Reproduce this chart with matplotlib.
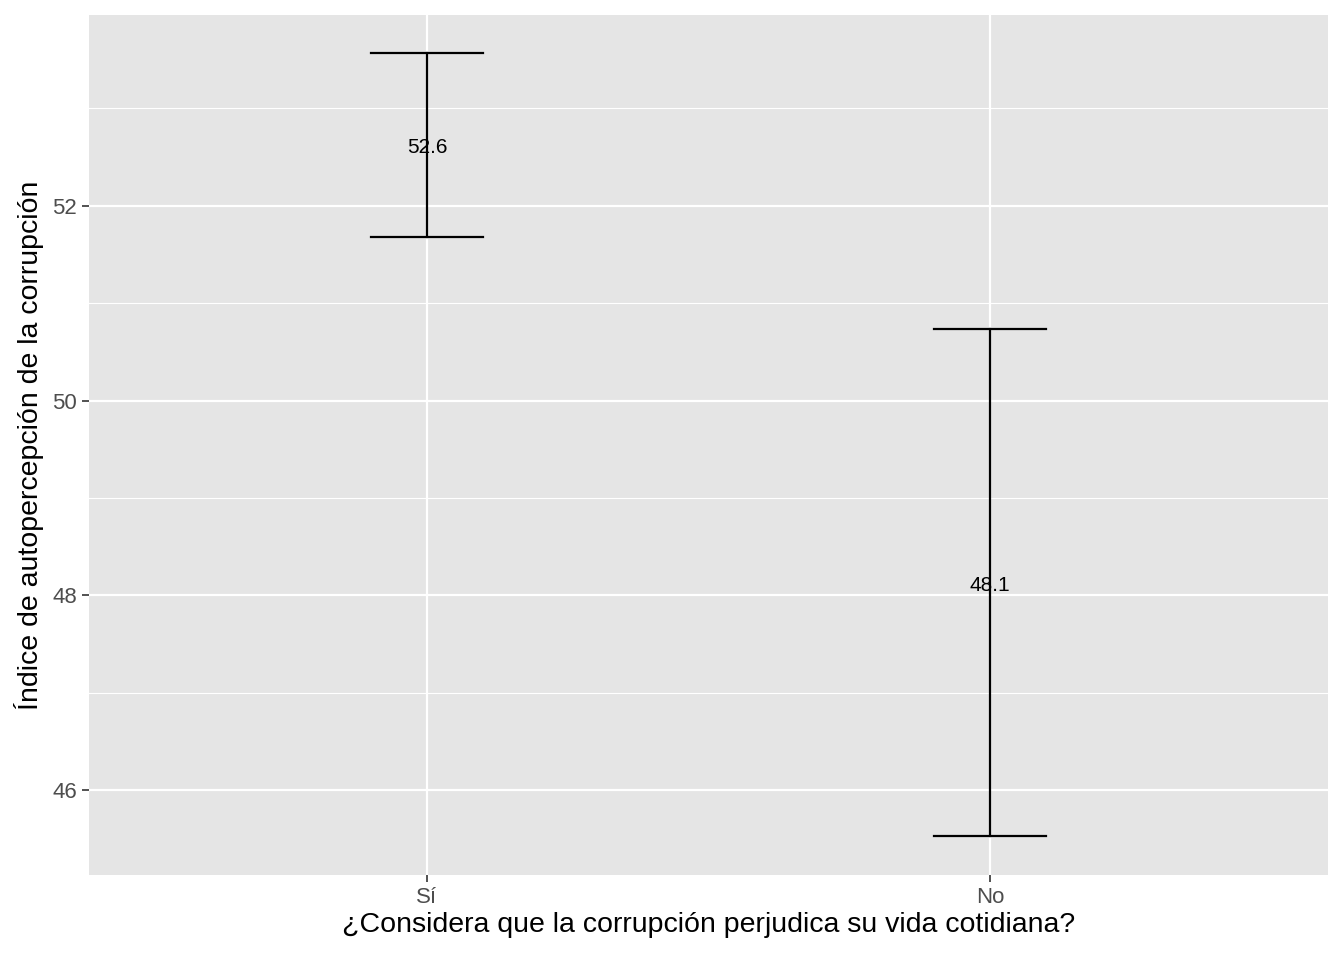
import matplotlib
matplotlib.use("Agg")
import matplotlib.pyplot as plt

# data
categories = ["Sí", "No"]
means = [52.6, 48.1]
lower = [51.68, 45.53]
upper = [53.57, 50.74]

plt.rcParams["font.family"] = ["Liberation Sans", "DejaVu Sans"]

fig = plt.figure(figsize=(13.44, 9.6), dpi=100)
ax = fig.add_axes([89/1344, 85/960, 1239/1344, 860/960])
ax.set_facecolor("#E5E5E5")

x = list(range(1, len(categories) + 1))
ax.set_xlim(0.4, 2.6)
ax.set_ylim(45.13, 53.96)

for v in [47, 49, 51, 53]:
    ax.axhline(v, color="white", lw=0.8, zorder=0)
for v in [46, 48, 50, 52]:
    ax.axhline(v, color="white", lw=1.6, zorder=0)
for xi in x:
    ax.axvline(xi, color="white", lw=1.6, zorder=0)

for xi, m, lo, hi in zip(x, means, lower, upper):
    ax.plot([xi, xi], [lo, hi], color="black", lw=1.6, zorder=2)
    ax.plot([xi - 0.1, xi + 0.1], [lo, lo], color="black", lw=1.6, zorder=2)
    ax.plot([xi - 0.1, xi + 0.1], [hi, hi], color="black", lw=1.6, zorder=2)
    ax.text(xi, m, f"{m:.1f}", ha="center", va="center", fontsize=15, zorder=3)

ax.set_xticks(x)
ax.set_xticklabels(categories)
ax.set_yticks([46, 48, 50, 52])
ax.tick_params(axis="both", colors="#333333", labelcolor="#4D4D4D",
               labelsize=16, length=5, width=1.2)
for s in ax.spines.values():
    s.set_visible(False)

ax.set_xlabel("¿Considera que la corrupción perjudica su vida cotidiana?", fontsize=20.5, labelpad=3)
ax.set_ylabel("Índice de autopercepción de la corrupción", fontsize=20.5, labelpad=6)

fig.savefig("out.png", dpi=100)
